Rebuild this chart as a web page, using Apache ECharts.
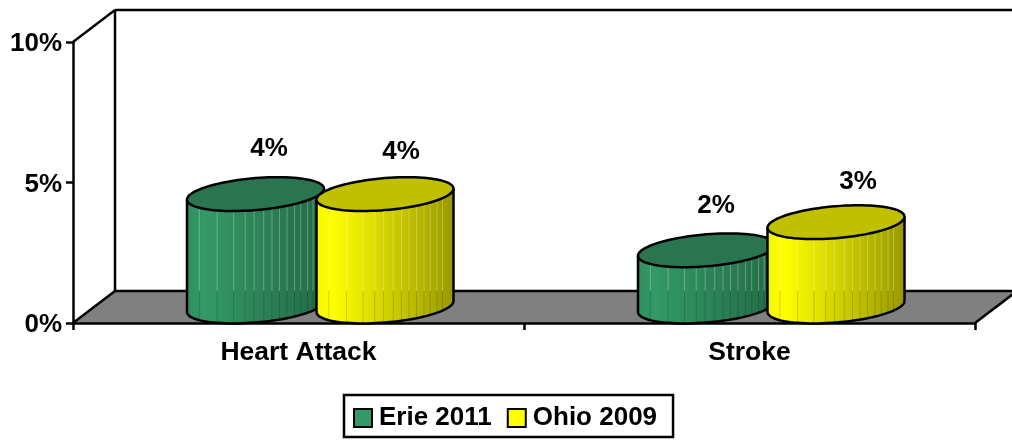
<!DOCTYPE html>
<html><head><meta charset="utf-8">
<style>html,body{margin:0;padding:0;background:#fff}#c{width:1012px;height:440px}</style>
<script src="https://cdn.jsdelivr.net/npm/echarts@6/dist/echarts.min.js"></script>
</head><body><div id="c"></div>
<script>
const categories = ['Heart Attack', 'Stroke'];
const erie2011 = [4.0, 2.0];
const ohio2009 = [4.0, 3.0];
const yTicks = { min: 0, max: 10, interval: 5 };

// presentation constants
const FONT = '"Liberation Sans", Arial, sans-serif';
const LINE = 2.5;
const DEPTH = { x: 42, y: -32 };
const CYL = { halfW: 68.5, tilt: 5.5, h: 16 };
const FACETS = [.09,.22,.34,.425,.49,.56,.62,.675,.73,.785,.83,.88,.92];
const erieStyle = { offset: -43, side: ['#2F8F5F','#339966','#246B47'], top: '#2A7550',
  labelDx: [13.5, 9.5], labelDy: [-45, -44] };
const ohioStyle = { offset: 86.5, side: ['#F5F500','#FFFF00','#999900'], top: '#C0C000',
  labelDx: [16, 22], labelDy: [-42, -40] };

function ellipsePts(cx, cy, t0, t1, n) {
  const pts = [];
  for (let i = 0; i <= n; i++) {
    const t = t0 + (t1 - t0) * i / n;
    pts.push([cx + CYL.halfW * Math.cos(t), cy - CYL.tilt * Math.cos(t) + CYL.h * Math.sin(t)]);
  }
  return pts;
}

function cylinder(style) {
  return function (params, api) {
    const cat = api.value(0), v = api.value(1);
    const base = api.coord([cat, 0]), head = api.coord([cat, v]);
    const cx = base[0] + style.offset;
    const by = base[1] + DEPTH.y / 2 - 0.5;
    const ty = head[1] + DEPTH.y / 2 - 0.5;
    const floorBack = base[1] + DEPTH.y;
    const bottomFront = ellipsePts(cx, by, 0, Math.PI, 48);
    const topFront = ellipsePts(cx, ty, Math.PI, 0, 48);
    const body = bottomFront.concat(topFront);
    const top = ellipsePts(cx, ty, 0, Math.PI * 2, 96);
    const s = style.side;
    const children = [{
      type: 'polygon', shape: { points: body },
      style: {
        fill: new echarts.graphic.LinearGradient(0, 0, 1, 0, [
          { offset: 0, color: s[0] }, { offset: .12, color: s[1] }, { offset: 1, color: s[2] }]),
        stroke: null }
    }];
    FACETS.forEach(function (f) {
      const x = cx - CYL.halfW + 2 * CYL.halfW * f;
      const c = (x - cx) / CYL.halfW;
      const s2 = Math.sqrt(1 - c * c);
      const yT = ty - CYL.tilt * c + CYL.h * s2;
      const yB = by - CYL.tilt * c + CYL.h * s2;
      children.push({ type: 'line', shape: { x1: x, y1: yT, x2: x, y2: Math.min(floorBack, yB) },
        style: { stroke: 'rgba(255,255,255,.28)', lineWidth: 1 } });
      children.push({ type: 'line', shape: { x1: x, y1: floorBack, x2: x, y2: yB },
        style: { stroke: 'rgba(0,0,0,.16)', lineWidth: 1 } });
    });
    children.push({ type: 'polyline', shape: { points: [ellipsePts(cx, by, Math.PI, Math.PI, 1)[0], ellipsePts(cx, ty, Math.PI, Math.PI, 1)[0]] },
      style: { stroke: '#000', lineWidth: LINE, fill: null } });
    children.push({ type: 'polyline', shape: { points: [ellipsePts(cx, by, 0, 0, 1)[0], ellipsePts(cx, ty, 0, 0, 1)[0]] },
      style: { stroke: '#000', lineWidth: LINE, fill: null } });
    children.push({ type: 'polyline', shape: { points: bottomFront },
      style: { stroke: '#000', lineWidth: LINE, fill: null } });
    children.push({ type: 'polygon', shape: { points: top },
      style: { fill: style.top, stroke: '#000', lineWidth: LINE } });
    children.push({ type: 'text',
      style: { x: cx + style.labelDx[cat], y: ty + style.labelDy[cat], text: Math.round(v) + '%',
        fill: '#000', font: 'bold 26px ' + FONT, align: 'center', verticalAlign: 'middle' } });
    return { type: 'group', children: children };
  };
}

function walls(params, api) {
  const g = params.coordSys;
  const L = g.x, R = g.x + g.width, T = g.y, B = g.y + g.height;
  const dx = DEPTH.x, dy = DEPTH.y;
  const line = (a, b) => ({ type: 'line', shape: { x1: a[0], y1: a[1], x2: b[0], y2: b[1] },
    style: { stroke: '#000', lineWidth: LINE } });
  return { type: 'group', children: [
    { type: 'polygon', shape: { points: [[L, B], [R, B], [R + dx, B + dy], [L + dx, B + dy]] },
      style: { fill: '#808080', stroke: null } },
    line([L, B], [L + dx, B + dy]),
    line([L + dx, B + dy], [R + dx, B + dy]),
    line([R, B], [R + dx, B + dy]),
    line([L, T], [L + dx, T + dy]),
    line([L + dx, T + dy], [R + dx, T + dy]),
    line([L + dx, T + dy], [L + dx, B + dy])
  ] };
}

const chart = echarts.init(document.getElementById('c'), null, { renderer: 'canvas' });
const pair = arr => arr.map((v, i) => [i, v]);
chart.setOption({
  animation: false,
  backgroundColor: '#fff',
  grid: { left: 73, top: 42, width: 902, height: 281, containLabel: false },
  xAxis: { type: 'category', data: categories, z: 1,
    axisLine: { lineStyle: { color: '#000', width: LINE } },
    axisTick: { show: true, alignWithLabel: false, length: 7, lineStyle: { color: '#000', width: LINE } },
    axisLabel: { color: '#000', fontFamily: FONT, fontWeight: 'bold', fontSize: 26.5, margin: 16 } },
  yAxis: { type: 'value', min: yTicks.min, max: yTicks.max, interval: yTicks.interval, z: 1,
    axisLine: { show: true, lineStyle: { color: '#000', width: LINE } },
    axisTick: { show: true, length: 7, lineStyle: { color: '#000', width: LINE } },
    splitLine: { show: false },
    axisLabel: { color: '#000', fontFamily: FONT, fontWeight: 'bold', fontSize: 26, margin: 11, verticalAlign: 'top', lineHeight: 4, formatter: '{value}%' } },
  legend: { data: ['Erie 2011', 'Ohio 2009'], left: 344, top: 395, icon: 'rect',
    itemWidth: 18, itemHeight: 18, itemGap: 15, padding: [10, 16, 6, 9],
    borderColor: '#000', borderWidth: LINE, backgroundColor: '#fff',
    itemStyle: { borderColor: '#000', borderWidth: 2 },
    textStyle: { color: '#000', fontFamily: FONT, fontWeight: 'bold', fontSize: 26, padding: [0, 0, 0, 2] } },
  series: [
    { type: 'custom', name: 'walls', z: 0, silent: true, clip: false, data: [[0, 0]], renderItem: walls, encode: { x: 0, y: 1 } },
    { type: 'custom', name: 'Erie 2011', z: 2, clip: false, data: pair(erie2011), renderItem: cylinder(erieStyle),
      itemStyle: { color: '#339966' }, encode: { x: 0, y: 1 } },
    { type: 'custom', name: 'Ohio 2009', z: 3, clip: false, data: pair(ohio2009), renderItem: cylinder(ohioStyle),
      itemStyle: { color: '#FFFF00' }, encode: { x: 0, y: 1 } }
  ]
});
</script></body></html>
